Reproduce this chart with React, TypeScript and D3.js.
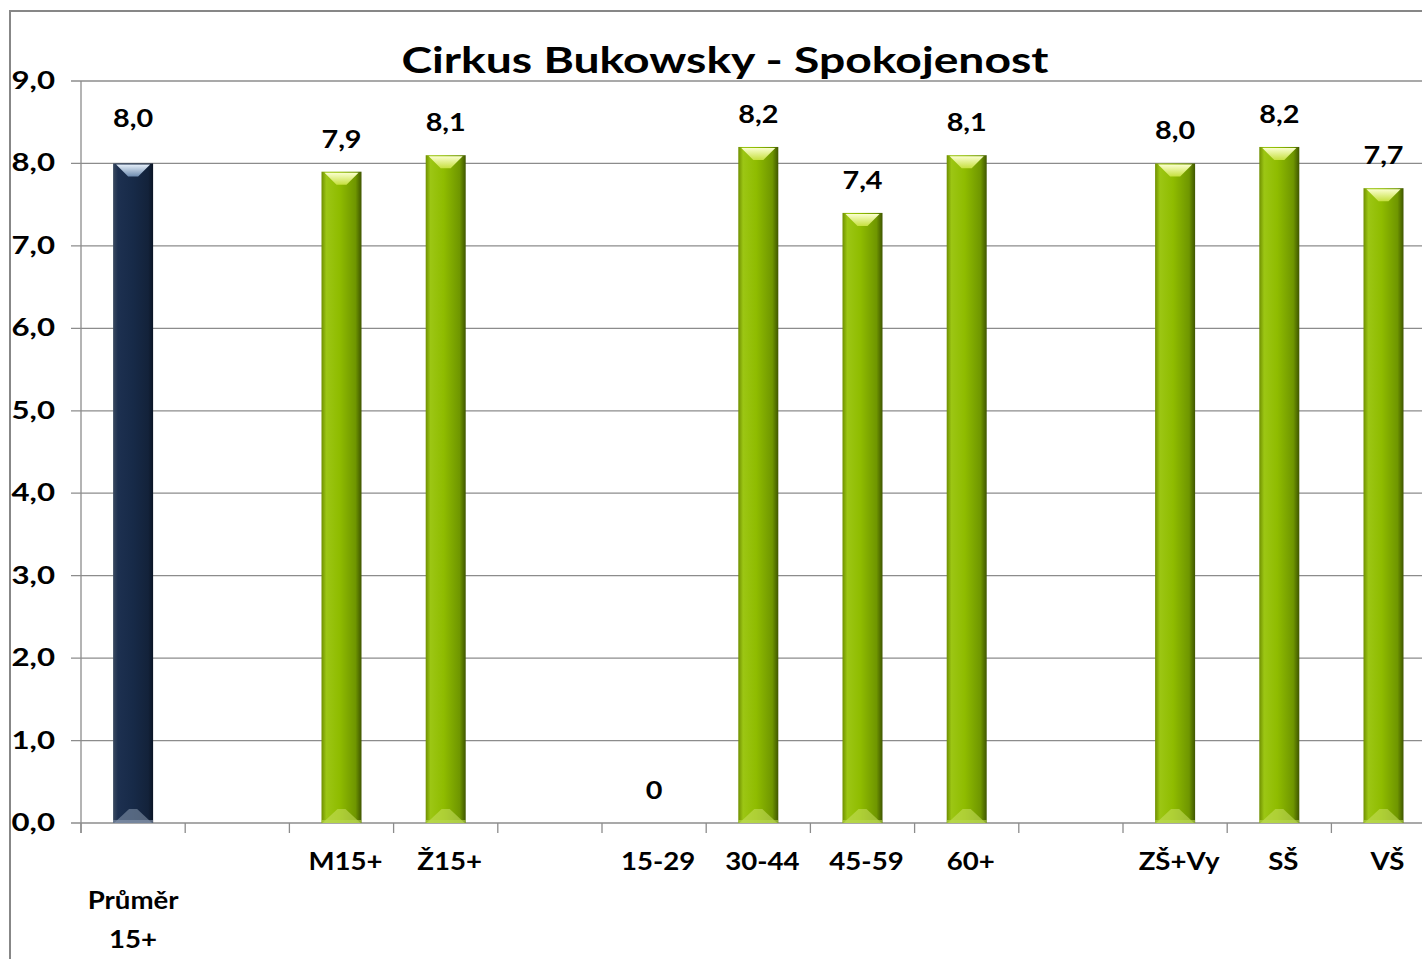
import React from 'react';
import * as d3 from 'd3';

// chart data
const title = 'Cirkus Bukowsky - Spokojenost';
const categories = ['Průměr 15+', '', 'M15+', 'Ž15+', '', '15-29', '30-44', '45-59', '60+', '', 'ZŠ+Vy', 'SŠ', 'VŠ'];
const values: (number | null)[] = [8.0, null, 7.9, 8.1, null, 0, 8.2, 7.4, 8.1, null, 8.0, 8.2, 7.7];
const yTicks = [0, 1, 2, 3, 4, 5, 6, 7, 8, 9];

const W = 1422;
const H = 959;
const FONT = 'Lato, "Open Sans", sans-serif';

const plot = { left: 81, top: 81, bottom: 823, step: 104.2 };

const fmt = (v: number) => (v === 0 ? '0' : d3.format('.1f')(v).replace('.', ','));

// the source text is horizontally stretched, so widen the glyphs a bit
const Txt: React.FC<{ x: number; y: number; sx: number; size: number; anchor: string; children: React.ReactNode }> =
    ({ x, y, sx, size, anchor, children }) => (
        <text transform={`translate(${x},${y}) scale(${sx},1)`} textAnchor={anchor} fontSize={size} fontWeight={700} fill="#000">
            {children}
        </text>
    );

const App: React.FC = () => {
    const keys = categories.map((_, i) => String(i));
    const pad = 1 - 40 / plot.step;

    const x = d3.scaleBand<string>()
        .domain(keys)
        .range([plot.left, plot.left + plot.step * categories.length])
        .paddingInner(pad)
        .paddingOuter(pad / 2);

    const y = d3.scaleLinear().domain([0, 9]).range([plot.bottom, plot.top]);
    const bw = x.bandwidth();

    return (
        <svg width={W} height={H} style={{ position: 'absolute', left: 0, top: 0, background: '#fff' }} fontFamily={FONT}>
            <defs>
                <linearGradient id="gGreen" x1="0" x2="1" y1="0" y2="0">
                    <stop offset="0" stopColor="#6f8f00" />
                    <stop offset="0.12" stopColor="#9cc614" />
                    <stop offset="0.45" stopColor="#8fbc00" />
                    <stop offset="0.85" stopColor="#6f9600" />
                    <stop offset="1" stopColor="#3f5600" />
                </linearGradient>
                <linearGradient id="gNavy" x1="0" x2="1" y1="0" y2="0">
                    <stop offset="0" stopColor="#3a4a60" />
                    <stop offset="0.12" stopColor="#1d3050" />
                    <stop offset="0.5" stopColor="#172a48" />
                    <stop offset="0.88" stopColor="#13223a" />
                    <stop offset="1" stopColor="#0a1424" />
                </linearGradient>
                <linearGradient id="topGreen" x1="0" x2="0" y1="0" y2="1">
                    <stop offset="0" stopColor="#fbffd0" />
                    <stop offset="1" stopColor="#c6e040" />
                </linearGradient>
                <linearGradient id="topNavy" x1="0" x2="0" y1="0" y2="1">
                    <stop offset="0" stopColor="#e6f0fa" />
                    <stop offset="1" stopColor="#6f8cb0" />
                </linearGradient>
            </defs>

            {/* outer chart border */}
            <rect x={10} y={11} width={1440} height={1000} fill="none" stroke="#878787" strokeWidth={2} />

            <Txt x={725} y={73} sx={1.25} size={37} anchor="middle">{title}</Txt>

            {/* grid + y axis */}
            {yTicks.map(t => (
                <g key={t}>
                    <line x1={plot.left - 10} x2={W} y1={y(t)} y2={y(t)} stroke="#8c8c8c" strokeWidth={1.3} />
                    <Txt x={55} y={y(t) + 8} sx={1.3} size={24} anchor="end">{d3.format('.1f')(t).replace('.', ',')}</Txt>
                </g>
            ))}
            <line x1={plot.left} x2={plot.left} y1={plot.top} y2={plot.bottom + 10} stroke="#8c8c8c" strokeWidth={1.3} />

            {/* x tick marks at category boundaries */}
            {d3.range(categories.length + 1).map(i => {
                const xx = plot.left + i * plot.step;
                return <line key={i} x1={xx} x2={xx} y1={plot.bottom} y2={plot.bottom + 10} stroke="#8c8c8c" strokeWidth={1.3} />;
            })}

            {/* bars */}
            {values.map((v, i) => {
                if (v === null || v === 0) return null;
                const x0 = x(keys[i])!;
                const x1 = x0 + bw;
                const cx = x0 + bw / 2;
                const top = y(v);
                const navy = i === 0;
                return (
                    <g key={i}>
                        <rect x={x0} y={top} width={bw} height={plot.bottom - top} fill={navy ? 'url(#gNavy)' : 'url(#gGreen)'} />
                        <path d={`M${x0 + 3},${top + 1}L${x1 - 3},${top + 1}L${cx + 5},${top + 13}L${cx - 5},${top + 13}Z`}
                            fill={navy ? 'url(#topNavy)' : 'url(#topGreen)'} />
                        <path d={`M${x0 + 1},${plot.bottom}L${x1 - 1},${plot.bottom}L${cx + 4},${plot.bottom - 14}L${cx - 4},${plot.bottom - 14}Z`}
                            fill={navy ? '#8a9ab0' : '#c8e060'} opacity={0.55} />
                        <rect x={x0} y={plot.bottom - 3} width={bw} height={3} fill={navy ? '#8a9ab0' : '#b8d850'} opacity={0.6} />
                    </g>
                );
            })}

            {/* data labels */}
            {values.map((v, i) => v === null ? null : (
                <Txt key={i} x={x(keys[i])! + bw / 2} y={y(v) - (i === 0 ? 36 : 24)} sx={1.2} size={24} anchor="middle">{fmt(v)}</Txt>
            ))}

            {/* category labels (single-line ones sit a few px right of the bar centre in the source) */}
            {categories.map((c, i) => {
                const lines = c.length > 6 ? c.split(' ') : [c];
                const start = lines.length > 1 ? 909 : 870;
                const cx = x(keys[i])! + bw / 2 + (lines.length > 1 ? 0 : 4);
                return lines.map((l, j) => (
                    <Txt key={`${i}-${j}`} x={cx} y={start + j * 39} sx={1.15} size={24} anchor="middle">{l}</Txt>
                ));
            })}
        </svg>
    );
};

export default App;
